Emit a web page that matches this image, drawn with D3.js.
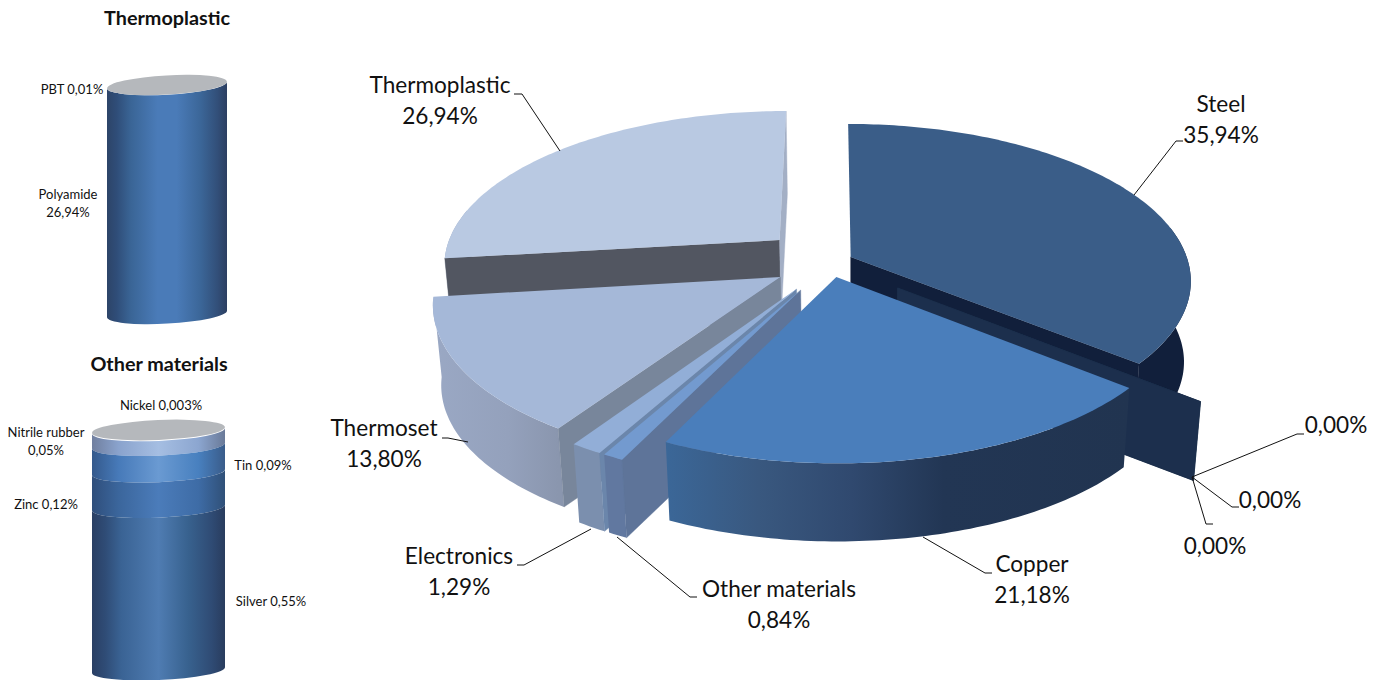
<!DOCTYPE html>
<html>
<head>
<meta charset="utf-8">
<script src="https://cdn.jsdelivr.net/npm/d3@7/dist/d3.min.js"></script>
<style>
html,body{margin:0;padding:0;background:#fff;}
svg{display:block;}
text{font-family:Lato,"Open Sans",sans-serif;fill:#111;}
</style>
</head>
<body>
<svg id="c" width="1381" height="680"></svg>
<script>
// ---- data ----
const pieNames  = ["Steel","Zero A","Zero B","Zero C","Copper","Other materials","Electronics","Thermoset","Thermoplastic"];
const pieValues = [35.94,0,0,0,21.18,0.84,1.29,13.80,26.94];
const thermoNames  = ["Polyamide","PBT"];
const thermoValues = [26.94,0.01];
const otherNames  = ["Silver","Zinc","Tin","Nitrile rubber","Nickel"];
const otherValues = [0.55,0.12,0.09,0.05,0.003];

// ---- layout / style ----
const W=1381,H=680;
const svg=d3.select("#c");
const defs=svg.append("defs");
const comma=d3.formatLocale({decimal:",",thousands:".",grouping:[3],currency:["","%"]});
const fmt2=v=>comma.format(".2f")(v)+"%";
const fmt3=v=>comma.format(".3f")(v)+"%";

// perspective of the pie plane
const view={cx:850,cy:257,R:336,Ry:152.6,p:0.147,s:2.8,vx:850,kx:0.98,vy:6000,ky:0.0141};
const explode={
 "Steel":[.002,0],"Zero A":[.136,.197],"Zero B":[.136,.197],"Zero C":[.136,.197],
 "Copper":[-.041,.128],"Other materials":[-.144,.2096],"Electronics":[-.156,.2036],
 "Thermoset":[-.204,.1286],"Thermoplastic":[-.212,-.113]
};
const looks={
 "Steel":{top:"#3a5d88",arc:[["0","#111f3b"],["1","#111f3b"]],start:null,end:"#111f3b"},
 "Zero":{start:"#1c2f4d"},
 "Copper":{top:"#4a7ebb",arc:[["0","#3b6798"],["0.2","#39587f"],["0.4","#30496f"],["0.6","#223654"],["1","#213450"]],start:"#213450",end:"#3a6699"},
 "Other materials":{top:"#739acf",arc:[["0","#6178a0"],["1","#6178a0"]],start:"#5e7499",end:"#5e7499"},
 "Electronics":{top:"#92aed7",arc:[["0","#7b8fae"],["1","#7b8fae"]],start:"#6b86ab",end:"#6b86ab"},
 "Thermoset":{top:"#a5b8d8",arc:[["0","#9aa8c4"],["0.6","#94a1bc"],["1","#8a96ae"]],start:"#78869b",end:"#78869b"},
 "Thermoplastic":{top:"#b9c9e2",arc:[["0","#9aa8c4"],["1","#9aa8c4"]],start:"#525661",end:"#a3afc5"}
};
const order=["Thermoplastic","Steel","Zero A","Zero B","Zero C","Thermoset","Electronics","Other materials","Copper"];

function project(u,v){
  const w=1-view.p*v;
  return [view.cx+(view.R*u+view.s*v)/w, view.cy+view.Ry*v/w];
}
function below(P){
  return [view.vx+(P[0]-view.vx)*view.kx, P[1]+(view.vy-P[1])*view.ky];
}
const poly=pts=>"M"+pts.map(p=>p[0].toFixed(2)+","+p[1].toFixed(2)).join("L")+"Z";
const cross=(o,a,b)=>(a[0]-o[0])*(b[1]-o[1])-(a[1]-o[1])*(b[0]-o[0]);

const arcs=d3.pie().sort(null).value(d=>d).startAngle(0).endAngle(2*Math.PI)(pieValues);
const byName=new Map(pieNames.map((n,i)=>[n,arcs[i]]));
const pieG=svg.append("g");

function hGrad(id,stops,x1,x2){
  const g=defs.append("linearGradient").attr("id",id).attr("gradientUnits","userSpaceOnUse")
    .attr("x1",x1).attr("x2",x2).attr("y1",0).attr("y2",0);
  stops.forEach(s=>g.append("stop").attr("offset",s[0]).attr("stop-color",s[1]));
  return `url(#${id})`;
}

order.forEach((name,oi)=>{
  const a=byName.get(name), off=explode[name];
  const at=(ang,r)=>project(off[0]+r*Math.sin(ang),off[1]-r*Math.cos(ang));
  const apex=at(0,0);
  const wall=(ang,fill)=>{
    if(!fill) return;
    const P=at(ang,1);
    pieG.append("path").attr("d",poly([apex,P,below(P),below(apex)]))
      .attr("fill",fill).attr("stroke",fill).attr("stroke-width",0.4);
  };
  if(a.value===0){ wall(a.startAngle,looks.Zero.start); return; }
  const look=looks[name];
  const n=Math.max(2,Math.ceil((a.endAngle-a.startAngle)*180/Math.PI));
  const rim=d3.range(n+1).map(i=>at(a.startAngle+(a.endAngle-a.startAngle)*i/n,1));
  const inner=at((a.startAngle+a.endAngle)/2,0.5);
  const seen=ang=>{
    const P=at(ang,1), Q=below(P);
    const off2=[apex[0]+(Q[0]-P[0]),apex[1]+(Q[1]-P[1])];
    return cross(apex,P,inner)*cross(apex,P,off2)<0;
  };
  const xs=d3.extent(rim,d=>d[0]);
  // the far part of the rim is always behind the top face
  const nearRim=rim.filter(P=>P[1]>=apex[1]-30);
  pieG.append("path").attr("d",poly(nearRim.concat(nearRim.map(below).reverse())))
    .attr("fill",hGrad("arc"+oi,look.arc,xs[0],xs[1]));
  if(seen(a.startAngle)) wall(a.startAngle,look.start);
  if(seen(a.endAngle)) wall(a.endAngle,look.end);
  pieG.append("path").attr("d",poly([apex].concat(rim))).attr("fill",look.top);
});

// ---- pie labels & leaders ----
const big=22.6, bigLine=31;
const pieLabels=[
 {i:0,t:["Steel"],x:1221,y:112,leader:[[1134,195],[1176,141],[1183,141]]},
 {i:8,t:["Thermoplastic"],x:440,y:93,leader:[[560,151],[522,94],[514,94]]},
 {i:7,t:["Thermoset"],x:384,y:436,leader:[[468,442],[448,438],[442,438]]},
 {i:4,t:["Copper"],x:1032,y:572,leader:[[923,537],[985,573],[992,573]]},
 {i:6,t:["Electronics"],x:459,y:564,leader:[[591,529],[524,565],[517,565]]},
 {i:5,t:["Other materials"],x:779,y:597,leader:[[617,537],[690,597],[697,597]]},
 {i:1,t:[],x:1336,y:402,leader:[[1192,477],[1297,434],[1304,434]]},
 {i:2,t:[],x:1270,y:477,leader:[[1192,477],[1232,507],[1239,507]]},
 {i:3,t:[],x:1215,y:523,leader:[[1192,477],[1206,524],[1213,524]]}
];
const line=d3.line();
const labG=svg.append("g");
pieLabels.forEach(l=>{
  labG.append("path").attr("d",line(l.leader)).attr("fill","none").attr("stroke","#111").attr("stroke-width",1);
  const t=labG.append("text").attr("text-anchor","middle").attr("font-size",big);
  const rows=l.t.concat([fmt2(pieValues[l.i])]);
  rows.forEach((s,j)=>t.append("tspan").attr("x",l.x).attr("y",l.y+bigLine*(l.t.length?j:1)).text(s));
});

// ---- cylinders ----
function cylinder(id,values,cx,rx,ry,tilt,yTop,yBottom,looksArr,capFill){
  const g=svg.append("g");
  const total=d3.sum(values);
  const y=d3.scaleLinear().domain([0,total]).range([yBottom,yTop]);
  const dy=rx*Math.tan(tilt*Math.PI/180);
  const L=cy=>[cx-rx,cy+dy], Rp=cy=>[cx+rx,cy-dy];
  const tops=d3.cumsum(values);
  // painted top band first, so that each lower band covers the seam above it
  values.map((v,i)=>i).reverse().forEach(i=>{
    const v=values[i];
    if(v/total<=0.01) return;
    const y1=y(tops[i]), y0=i===0?yBottom:y(tops[i]-v);
    const fill=hGrad(id+i,looksArr[i],cx-rx,cx+rx);
    const a0=L(y0),b0=Rp(y0),a1=L(y1),b1=Rp(y1);
    g.append("path").attr("d",`M${a1}A${rx},${ry} ${-tilt} 0 0 ${b1}L${b0}A${rx},${ry} ${-tilt} 0 1 ${a0}Z`).attr("fill",fill);
  });
  g.append("ellipse").attr("cx",cx).attr("cy",yTop).attr("rx",rx).attr("ry",ry)
    .attr("transform",`rotate(${-tilt} ${cx} ${yTop})`).attr("fill",capFill);
}
const bodyBlue=[["0","#2d4468"],["0.08","#2f4d78"],["0.2","#3a6596"],["0.42","#4a7bb8"],["0.58","#4a7bb8"],["0.78","#3b6698"],["0.92","#324f79"],["1","#2c3f62"]];
const silverBlue=[["0","#2a3f64"],["0.1","#2f4c76"],["0.22","#3a6394"],["0.5","#4f7cb2"],["0.72","#38628f"],["0.9","#2f4b74"],["1","#293c5e"]];
const zincBlue=[["0","#2f4e7b"],["0.2","#3b669c"],["0.5","#4b7cba"],["0.8","#3e6ca6"],["1","#305078"]];
const tinBlue=[["0","#34598c"],["0.2","#477ab9"],["0.5","#6a9ad2"],["0.8","#4880bf"],["1","#3a5c8a"]];
const nitrileBlue=[["0","#707f9f"],["0.2","#8aa3cd"],["0.5","#a5bee2"],["0.8","#8ca6d0"],["1","#6a7a98"]];
cylinder("t",thermoValues,167,60,9.6,3.2,85,314,[bodyBlue,bodyBlue],"#b5b8bc");
cylinder("o",otherValues,158.5,66.5,10,2.5,430,670,[silverBlue,zincBlue,tinBlue,nitrileBlue,nitrileBlue],"#b5b8bc");

// ---- small labels ----
const smallG=svg.append("g").attr("font-size",13);
const smallLabels=[
 {rows:[thermoNames[1]+" "+fmt2(thermoValues[1])],x:72,y:94},
 {rows:[thermoNames[0],fmt2(thermoValues[0])],x:68,y:199},
 {rows:[otherNames[4]+" "+fmt3(otherValues[4])],x:161,y:410},
 {rows:[otherNames[3],fmt2(otherValues[3])],x:46,y:437},
 {rows:[otherNames[2]+" "+fmt2(otherValues[2])],x:263,y:470},
 {rows:[otherNames[1]+" "+fmt2(otherValues[1])],x:46,y:509},
 {rows:[otherNames[0]+" "+fmt2(otherValues[0])],x:271,y:606}
];
smallLabels.forEach(l=>{
  const t=smallG.append("text").attr("text-anchor","middle");
  l.rows.forEach((s,j)=>t.append("tspan").attr("x",l.x).attr("y",l.y+j*17.5).text(s));
});
[["Thermoplastic",167,25],["Other materials",159,371]].forEach(d=>{
  svg.append("text").attr("x",d[1]).attr("y",d[2]).attr("text-anchor","middle")
    .attr("font-size",19.8).attr("font-weight",700).text(d[0]);
});
</script>
</body>
</html>
